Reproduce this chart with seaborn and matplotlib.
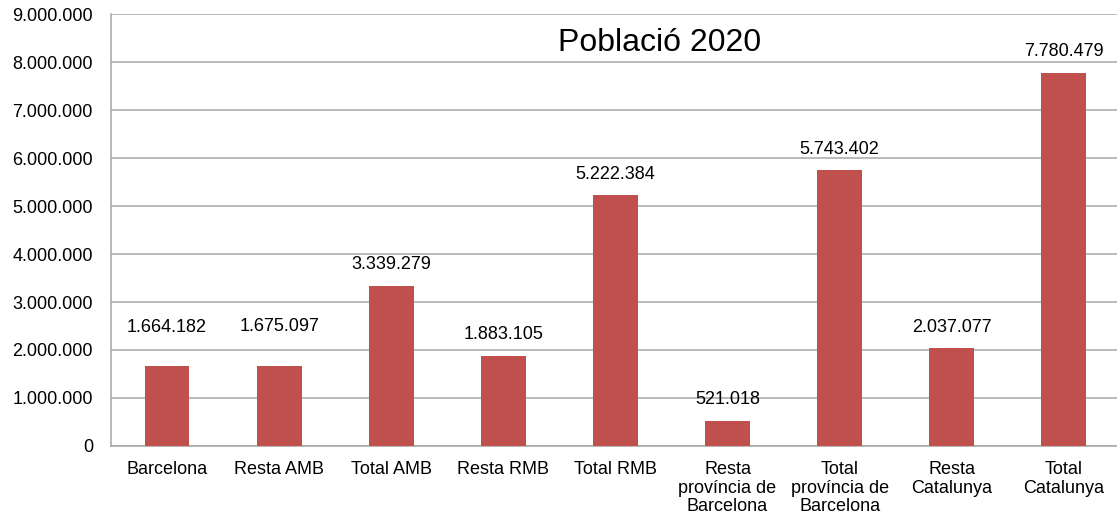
import matplotlib
matplotlib.use("Agg")
import matplotlib.pyplot as plt
import seaborn as sns
import pandas as pd
import numpy as np

categories = ["Barcelona", "Resta AMB", "Total AMB", "Resta RMB", "Total RMB",
              "Resta\nprovíncia de\nBarcelona", "Total\nprovíncia de\nBarcelona",
              "Resta\nCatalunya", "Total\nCatalunya"]
values = [1664182, 1675097, 3339279, 1883105, 5222384, 521018, 5743402, 2037077, 7780479]
y_ticks = [0, 1000000, 2000000, 3000000, 4000000, 5000000, 6000000, 7000000, 8000000, 9000000]
title = "Població 2020"

sns.set_style("white")
plt.rcParams["font.family"] = ["Liberation Sans", "DejaVu Sans"]
plt.rcParams["text.color"] = "black"
plt.rcParams["xtick.color"] = "black"
plt.rcParams["ytick.color"] = "black"

def fmt(v):
    return f"{v:,.0f}".replace(",", ".")

df = pd.DataFrame({"cat": categories, "val": values})
fig = plt.figure(figsize=(11.17, 5.21), dpi=100)
ax = fig.add_axes([0.0994, 0.144, 0.9006, 0.829])
sns.barplot(data=df, x="cat", y="val", color="#C0504D", saturation=1, width=0.4,
            linewidth=0, ax=ax, zorder=3)

ax.set_ylim(0, 9000000)
ax.set_xlim(-0.5, 8.475)
ax.set_yticks(y_ticks)
ax.set_yticklabels([fmt(v) for v in y_ticks], fontsize=13)
ax.yaxis.grid(True, color="#A6A6A6", linewidth=1.1, zorder=0)
ax.set_axisbelow(True)
ax.set_xlabel("")
ax.set_ylabel("")
ax.tick_params(axis="x", length=0, labelsize=13, pad=11, labelcolor="black")
ax.set_xticks(np.arange(-0.5, 8.5, 1), minor=True)
ax.tick_params(axis="x", which="minor", length=6, color="#A6A6A6", width=1.1, direction="out")
ax.tick_params(axis="y", length=6, color="#A6A6A6", width=1.1, direction="out",
               labelsize=13, pad=7, labelcolor="black")
for lab in ax.get_xticklabels():
    lab.set_linespacing(1.1)
for s in ["top", "right"]:
    ax.spines[s].set_visible(False)
for s in ["left", "bottom"]:
    ax.spines[s].set_color("#A6A6A6")
    ax.spines[s].set_linewidth(1.1)

label_offsets = [22, 22, 9, 9, 9, 9, 9, 9, 9]
for i, (v, off) in enumerate(zip(values, label_offsets)):
    ax.annotate(fmt(v), xy=(i, v), xytext=(0, off), textcoords="offset points",
                ha="center", va="bottom", fontsize=13, color="black")

ax.text(0.545, 0.934, title, transform=ax.transAxes, ha="center", va="center",
        fontsize=23, color="black")

fig.savefig("out.png", dpi=100)
